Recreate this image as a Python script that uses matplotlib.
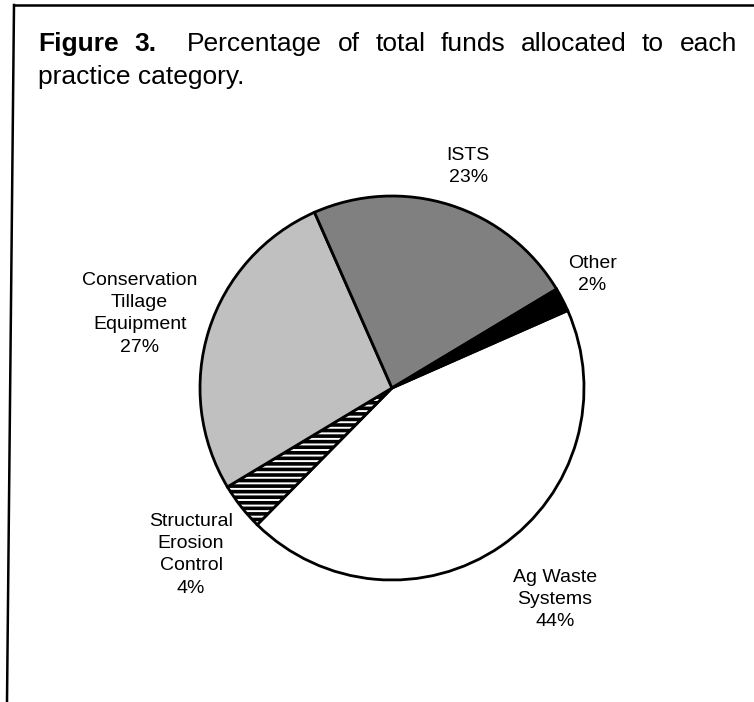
import numpy as np
import matplotlib
matplotlib.use('Agg')
import matplotlib.pyplot as plt
from matplotlib.lines import Line2D

plt.rcParams['font.family'] = ['Liberation Sans', 'DejaVu Sans']
plt.rcParams['hatch.linewidth'] = 2.6

# data
categories = ['Ag Waste\nSystems', 'Structural\nErosion\nControl',
              'Conservation\nTillage\nEquipment', 'ISTS', 'Other']
shares = [44, 4, 27, 23, 2]
fills = ['white', 'white', '#c0c0c0', '#808080', 'black']
hatches = [None, '---', None, None, None]
label_dist = [1.39, 1.36, 1.37, 1.22, 1.2]
label_shift = [3, 1.5, 1.2, -1.4, 2.2]  # degrees

W, H = 754, 702
cx, cy, R = 392, 388, 192  # pie centre / radius in pixels (from top-left)

fig = plt.figure(figsize=(W / 100, H / 100), dpi=100)
ax = fig.add_axes([0, 0, 1, 1])

wedges, _ = ax.pie(shares, colors=fills, startangle=23.8, counterclock=False,
                   wedgeprops=dict(edgecolor='black', linewidth=2))
for w, h in zip(wedges, hatches):
    if h:
        w.set_hatch(h)

ax.set_xlim(-cx / R, (W - cx) / R)
ax.set_ylim(-(H - cy) / R, cy / R)
ax.set_aspect('auto')
ax.axis('off')

for i, w in enumerate(wedges):
    mid = np.deg2rad((w.theta1 + w.theta2) / 2 + label_shift[i])
    d = label_dist[i]
    ax.text(d * np.cos(mid), d * np.sin(mid), f'{categories[i]}\n{shares[i]}%',
            ha='center', va='center', fontsize=14, linespacing=1.4)

# frame (scanned box: top + left edge only)
fig.add_artist(Line2D([14 / W, 1], [1 - 5 / H, 1 - 5 / H], color='black', lw=1.8))
fig.add_artist(Line2D([14 / W, 7 / W], [1 - 5 / H, 0], color='black', lw=1.8))

# justified title, first line
words = ['Figure', '3.', 'Percentage', 'of', 'total', 'funds', 'allocated', 'to', 'each']
gaps = [1, 2, 1, 1, 1, 1, 1, 1]
x0, x1, base1, base2 = 38, 737, 51, 84
txts = []
for i, wd in enumerate(words):
    t = fig.text(0, 1 - base1 / H, wd, fontsize=19, va='baseline',
                 fontweight='bold' if i < 2 else 'normal')
    txts.append(t)
rend = fig.canvas.get_renderer()
widths = [t.get_window_extent(rend).width for t in txts]
unit = (x1 - x0 - sum(widths)) / sum(gaps)
x = x0
for i, t in enumerate(txts):
    t.set_x(x / W)
    x += widths[i] + (unit * gaps[i] if i < len(gaps) else 0)
fig.text(x0 / W, 1 - base2 / H, 'practice category.', fontsize=19, va='baseline')

fig.savefig('out.png', dpi=100)
